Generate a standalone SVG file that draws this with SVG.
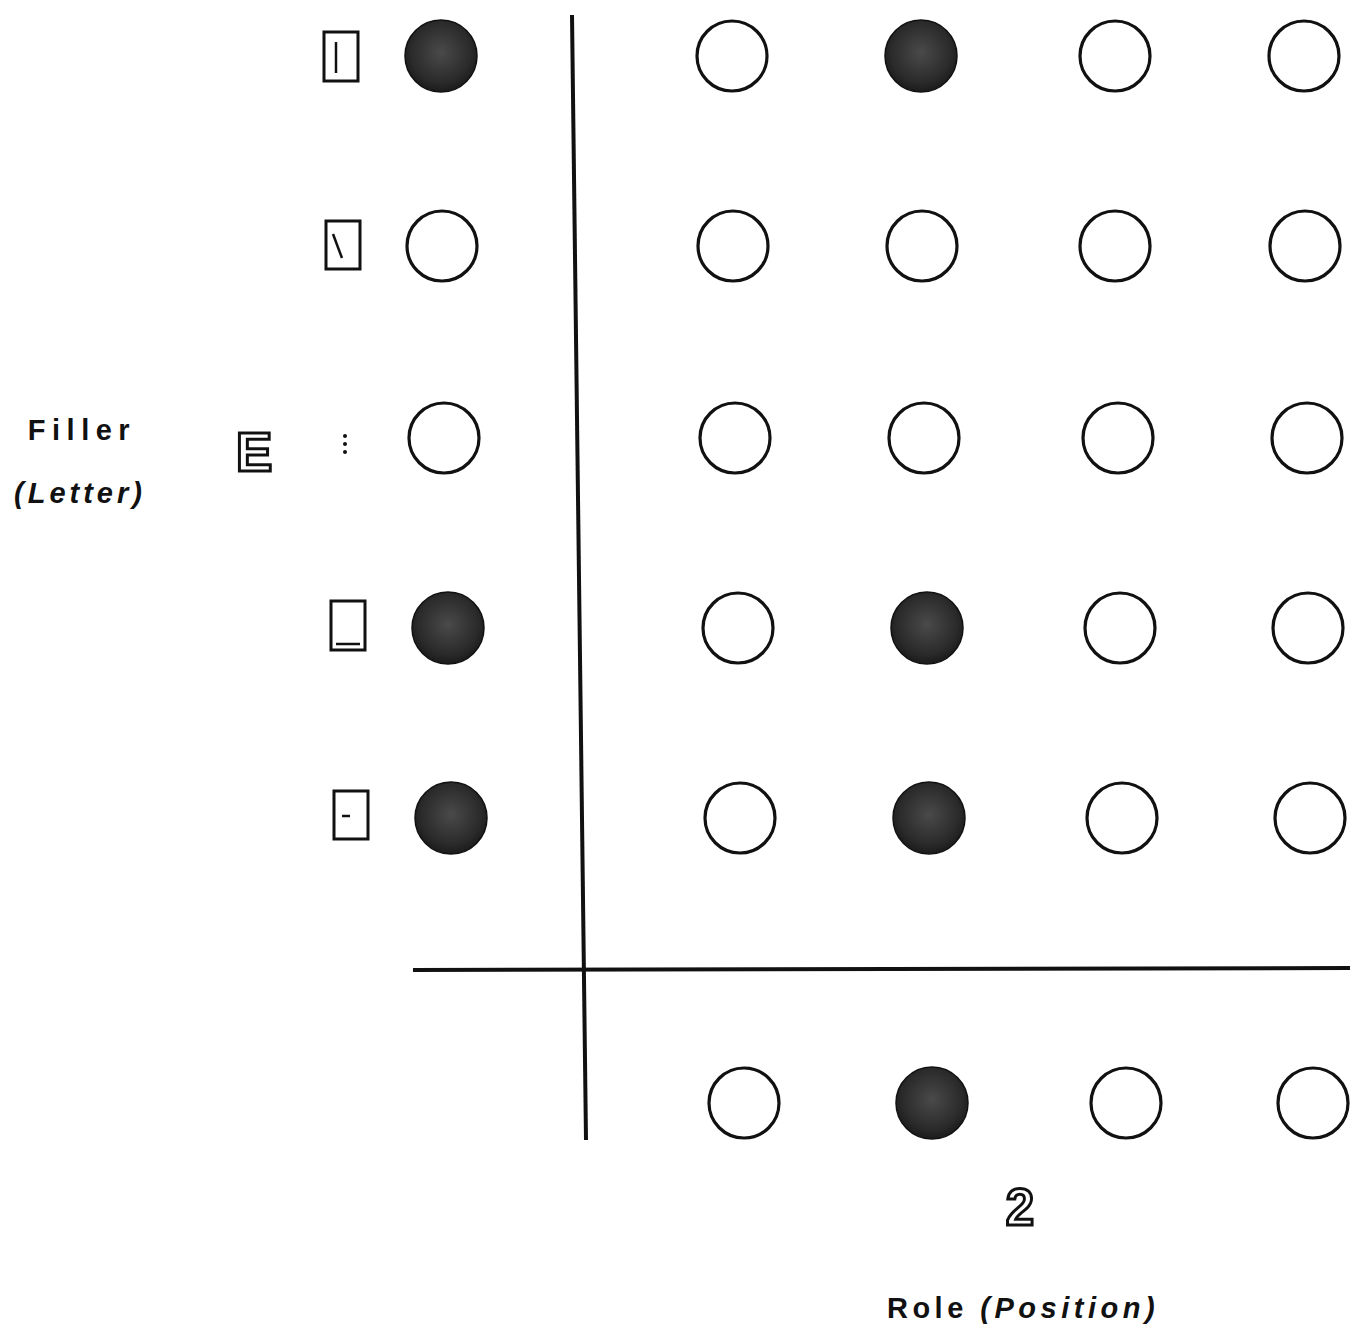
<svg xmlns="http://www.w3.org/2000/svg" width="1355" height="1340" viewBox="0 0 1355 1340">
<style>
.o{fill:#fff;stroke:#111;stroke-width:3.2}
.f{fill:url(#g);stroke:#111;stroke-width:1.5}
.b{fill:#fff;stroke:#111;stroke-width:3}
.l{stroke:#111;stroke-width:2.5;fill:none}
.ax{stroke:#111;stroke-width:4;fill:none}
.t{font-family:"Liberation Sans",Arial,sans-serif;font-size:29px;fill:#111;font-weight:bold}
.i{font-style:italic}
.s{font-family:"Liberation Sans",Arial,sans-serif;font-weight:bold;fill:#fff;stroke:#111;stroke-width:3}
</style>
<defs>
<radialGradient id="g" cx="0.5" cy="0.45" r="0.6">
<stop offset="0" stop-color="#4a4a4a"/>
<stop offset="0.7" stop-color="#2a2a2a"/>
<stop offset="1" stop-color="#151515"/>
</radialGradient>
</defs>
<g id="connectors">
<line class="ax" x1="572" y1="15" x2="586" y2="1140"/>
<line class="ax" x1="413" y1="970" x2="1350" y2="968"/>
</g>
<g id="labels">
<text class="t" x="82" y="440" text-anchor="middle" letter-spacing="6.5">Filler</text>
<text class="t i" x="80" y="503" text-anchor="middle" letter-spacing="4">(Letter)</text>
<text class="t" x="1023" y="1318" text-anchor="middle" letter-spacing="4.5">Role <tspan class="i">(Position)</tspan></text>
</g>
<g id="glyph-E"><text class="s" x="254" y="471" font-size="55" text-anchor="middle">E</text></g>
<g id="glyph-2"><text class="s" x="1020" y="1225" font-size="51" text-anchor="middle">2</text></g>
<g id="feat-1"><rect class="b" x="324" y="32" width="34" height="49"/><line class="l" x1="336" y1="42" x2="336" y2="73"/></g>
<g id="feat-2"><rect class="b" x="326" y="221" width="34" height="48"/><line class="l" x1="333" y1="234" x2="342" y2="258"/></g>
<g id="feat-3"><circle cx="345" cy="436" r="2" fill="#111"/><circle cx="345" cy="444" r="2" fill="#111"/><circle cx="345" cy="452" r="2" fill="#111"/></g>
<g id="feat-4"><rect class="b" x="331" y="601" width="34" height="49"/><line class="l" x1="336" y1="644" x2="360" y2="644"/></g>
<g id="feat-5"><rect class="b" x="334" y="791" width="34" height="48"/><line class="l" x1="342" y1="816" x2="350" y2="816"/></g>
<g id="row-1">
<circle class="f" cx="441" cy="56" r="36"/>
<circle class="o" cx="732" cy="56" r="35"/>
<circle class="f" cx="921" cy="56" r="36"/>
<circle class="o" cx="1115" cy="56" r="35"/>
<circle class="o" cx="1304" cy="56" r="35"/>
</g>
<g id="row-2">
<circle class="o" cx="442" cy="246" r="35"/>
<circle class="o" cx="733" cy="246" r="35"/>
<circle class="o" cx="922" cy="246" r="35"/>
<circle class="o" cx="1115" cy="246" r="35"/>
<circle class="o" cx="1305" cy="246" r="35"/>
</g>
<g id="row-3">
<circle class="o" cx="444" cy="438" r="35"/>
<circle class="o" cx="735" cy="438" r="35"/>
<circle class="o" cx="924" cy="438" r="35"/>
<circle class="o" cx="1118" cy="438" r="35"/>
<circle class="o" cx="1307" cy="438" r="35"/>
</g>
<g id="row-4">
<circle class="f" cx="448" cy="628" r="36"/>
<circle class="o" cx="738" cy="628" r="35"/>
<circle class="f" cx="927" cy="628" r="36"/>
<circle class="o" cx="1120" cy="628" r="35"/>
<circle class="o" cx="1308" cy="628" r="35"/>
</g>
<g id="row-5">
<circle class="f" cx="451" cy="818" r="36"/>
<circle class="o" cx="740" cy="818" r="35"/>
<circle class="f" cx="929" cy="818" r="36"/>
<circle class="o" cx="1122" cy="818" r="35"/>
<circle class="o" cx="1310" cy="818" r="35"/>
</g>
<g id="role-row">
<circle class="o" cx="744" cy="1103" r="35"/>
<circle class="f" cx="932" cy="1103" r="36"/>
<circle class="o" cx="1126" cy="1103" r="35"/>
<circle class="o" cx="1313" cy="1103" r="35"/>
</g>
</svg>
